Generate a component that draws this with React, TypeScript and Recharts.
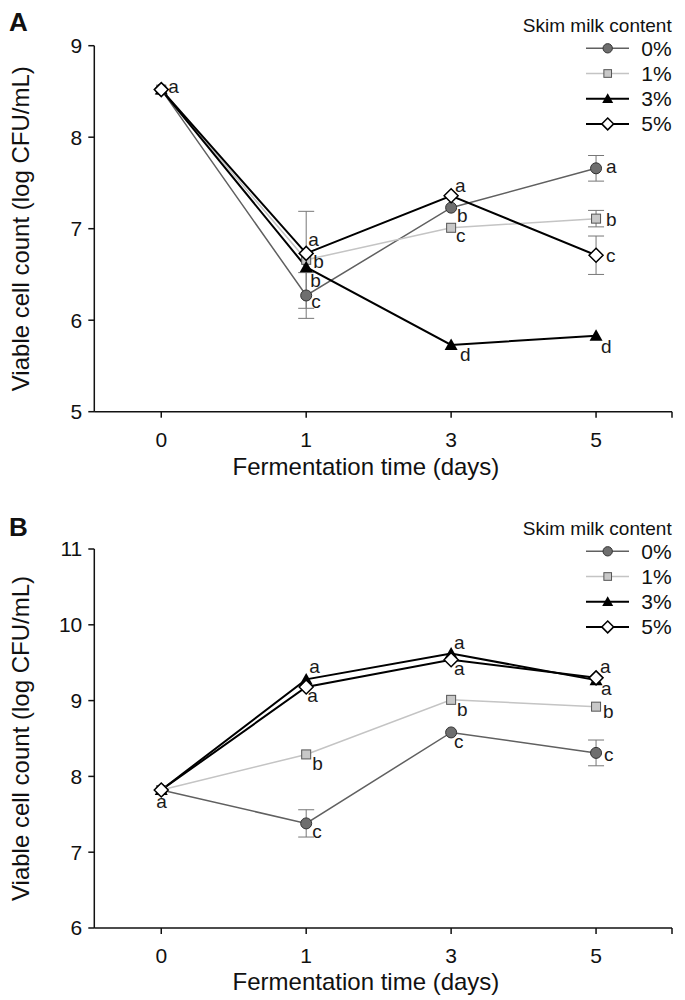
import React from 'react';
import { LineChart, Line, XAxis, YAxis, ErrorBar, LabelList, Legend } from 'recharts';

const FONT = "'Liberation Sans', Arial, sans-serif";

// ---------- shared ----------
const days = ['0', '1', '3', '5'];
const seriesNames = ['0%', '1%', '3%', '5%'];
const legendTitle = 'Skim milk content';
const xTitle = 'Fermentation time (days)';
const yTitle = 'Viable cell count (log CFU/mL)';

// ---------- Panel A ----------
const a0 = [8.52, 6.27, 7.23, 7.66];
const a1 = [8.52, 6.66, 7.01, 7.11];
const a3 = [8.52, 6.58, 5.73, 5.83];
const a5 = [8.52, 6.73, 7.36, 6.71];
const aErr0 = [null, 0.25, null, 0.14];
const aErr1 = [null, 0.53, null, 0.09];
const aErr3 = [null, null, null, null];
const aErr5 = [null, null, null, 0.21];
const aLet0 = ['', 'c', 'b', 'a'];
const aLet1 = ['', 'b', 'c', 'b'];
const aLet3 = ['', 'b', 'd', 'd'];
const aLet5 = ['a', 'a', 'a', 'c'];
const aTicks = [5, 6, 7, 8, 9];

// ---------- Panel B ----------
const b0 = [7.82, 7.38, 8.58, 8.31];
const b1 = [7.82, 8.29, 9.01, 8.92];
const b3 = [7.82, 9.28, 9.62, 9.27];
const b5 = [7.82, 9.18, 9.54, 9.3];
const bErr0 = [null, 0.18, null, 0.17];
const bErr1 = [null, null, null, null];
const bErr3 = [null, null, null, null];
const bErr5 = [null, null, null, null];
const bLet0 = ['', 'c', 'c', 'c'];
const bLet1 = ['', 'b', 'b', 'b'];
const bLet3 = ['', 'a', 'a', 'a'];
const bLet5 = ['a', 'a', 'a', 'a'];
const bTicks = [6, 7, 8, 9, 10, 11];

// letter placement offsets [dx, dy] (styling)
const aPlace = [
  [[0, 0], [5, 8], [6, 9], [10, 0]],
  [[0, 0], [7, 3], [5, 9], [10, 2]],
  [[0, 0], [4, 15], [9, 11], [5, 12]],
  [[7, -2], [2, -12], [4, -9], [10, 2]],
];
const bPlace = [
  [[0, 0], [6, 10], [3, 11], [8, 3]],
  [[0, 0], [6, 11], [6, 11], [7, 6]],
  [[0, 0], [3, -11], [3, -10], [5, 10]],
  [[-5, 13], [1, 10], [3, 10], [4, -10]],
];

const styles = [
  { stroke: '#606060', width: 1.5, shape: 'circle' },
  { stroke: '#c4c4c4', width: 1.5, shape: 'square' },
  { stroke: '#000000', width: 2, shape: 'triangle' },
  { stroke: '#000000', width: 2, shape: 'diamond' },
];

function Marker({ shape, cx, cy, s = 1 }: any) {
  if (cx == null || cy == null || isNaN(cx) || isNaN(cy)) return <g />;
  if (shape === 'circle')
    return <circle cx={cx} cy={cy} r={5.5 * s} fill="#6e6e6e" stroke="#333" strokeWidth={1} />;
  if (shape === 'square')
    return (
      <rect x={cx - 4.5 * s} y={cy - 4.5 * s} width={9 * s} height={9 * s} fill="#c8c8c8" stroke="#555" strokeWidth={1} />
    );
  if (shape === 'triangle')
    return (
      <path d={`M${cx},${cy - 6.5 * s} L${cx + 6.5 * s},${cy + 5 * s} L${cx - 6.5 * s},${cy + 5 * s} Z`} fill="#000" />
    );
  return (
    <path
      d={`M${cx},${cy - 7 * s} L${cx + 7 * s},${cy} L${cx},${cy + 7 * s} L${cx - 7 * s},${cy} Z`}
      fill="#fff"
      stroke="#000"
      strokeWidth={1.5}
    />
  );
}

function buildRows(vals: number[][], errs: (number | null)[][], lets: string[][]) {
  return days.map((d, i) => ({
    idx: i,
    day: d,
    s0: vals[0][i], s1: vals[1][i], s2: vals[2][i], s3: vals[3][i],
    e0: errs[0][i], e1: errs[1][i], e2: errs[2][i], e3: errs[3][i],
    l0: lets[0][i], l1: lets[1][i], l2: lets[2][i], l3: lets[3][i],
  }));
}

const rowsA = buildRows([a0, a1, a3, a5], [aErr0, aErr1, aErr3, aErr5], [aLet0, aLet1, aLet3, aLet5]);
const rowsB = buildRows([b0, b1, b3, b5], [bErr0, bErr1, bErr3, bErr5], [bLet0, bLet1, bLet3, bLet5]);

const makeLetter = (place: number[][]) => (props: any) => {
  const { x, y, value, index } = props;
  if (!value) return null;
  const [dx, dy] = place[index] || [0, 0];
  return (
    <text key={`lt-${index}`} x={x + dx} y={y + dy + 5} fontSize={19} fontFamily={FONT} fill="#1a1a1a">
      {value}
    </text>
  );
};

const makeLegend = () => () => (
  <svg width={195} height={135} style={{ display: 'block' }}>
    <text x={181.7} y={32} textAnchor="end" fontSize={19} fontFamily={FONT} fill="#111">
      {legendTitle}
    </text>
    {seriesNames.map((n, i) => {
      const cy = 48.3 + i * 25.2;
      const st = styles[i];
      return (
        <g key={n}>
          <line x1={96} x2={139} y1={cy} y2={cy} stroke={st.stroke} strokeWidth={st.width} />
          <Marker shape={st.shape} cx={117.7} cy={cy} s={0.85} />
          <text x={181.7} y={cy + 7.5} textAnchor="end" fontSize={21} fontFamily={FONT} fill="#111">
            {n}
          </text>
        </g>
      );
    })}
  </svg>
);

function Panel({ rows, domain, ticks, place, letter, top, plotH, legendTop, titleGap }: any) {
  const H = 495;
  const bottomAxis = top + plotH;
  const xAxisH = H - bottomAxis;
  const XTitle = () => (
    <text x={366} y={bottomAxis + titleGap} textAnchor="middle" fontSize={24} fontFamily={FONT} fill="#111">
      {xTitle}
    </text>
  );
  const yc = top + plotH / 2;
  const YTitle = () => (
    <text x={29} y={yc} textAnchor="middle" fontSize={24} fontFamily={FONT} fill="#111" transform={`rotate(-90, 29, ${yc})`}>
      {yTitle}
    </text>
  );
  return (
    <div style={{ position: 'relative', width: 685, height: H }}>
      <LineChart width={685} height={H} data={rows} margin={{ top, right: 13, left: 34.3, bottom: 0 }}>
        <XAxis
          type="number"
          dataKey="idx"
          domain={[-0.462, 3.524]}
          ticks={[0, 1, 2, 3, 3.524]}
          interval={0}
          allowDataOverflow
          tickFormatter={(v: number) => (days[v] !== undefined ? days[v] : '')}
          height={xAxisH}
          tickSize={6}
          tickMargin={14}
          axisLine={{ stroke: '#111', strokeWidth: 1.5 }}
          tickLine={{ stroke: '#111', strokeWidth: 1.5 }}
          tick={{ fill: '#111', fontSize: 21, fontFamily: FONT }}
          label={<XTitle />}
        />
        <YAxis
          type="number"
          domain={domain}
          ticks={ticks}
          interval={0}
          allowDataOverflow
          width={60}
          tickSize={6}
          tickMargin={6}
          axisLine={{ stroke: '#111', strokeWidth: 1.5 }}
          tickLine={{ stroke: '#111', strokeWidth: 1.5 }}
          tick={{ fill: '#111', fontSize: 21, fontFamily: FONT }}
          label={<YTitle />}
        />
        <Legend
          layout="vertical"
          align="center"
          verticalAlign="middle"
          content={makeLegend()}
          wrapperStyle={{ left: 490, top: legendTop, width: 195, height: 135 }}
        />
        {styles.map((st, i) => (
          <Line
            key={`s${i}`}
            type="linear"
            dataKey={`s${i}`}
            name={seriesNames[i]}
            stroke={st.stroke}
            strokeWidth={st.width}
            isAnimationActive={false}
            activeDot={false}
            dot={(p: any) => <Marker key={`m${i}-${p.index}`} shape={st.shape} cx={p.cx} cy={p.cy} />}
          >
            <ErrorBar dataKey={`e${i}`} width={8} strokeWidth={1} stroke="#777" direction="y" />
            <LabelList dataKey={`l${i}`} content={makeLetter(place[i])} />
          </Line>
        ))}
      </LineChart>
      <svg width={40} height={40} style={{ position: 'absolute', left: 0, top: 0 }}>
        <text x={9} y={31} fontSize={26} fontWeight="bold" fontFamily={FONT} fill="#111">
          {letter}
        </text>
      </svg>
    </div>
  );
}

export default function App() {
  return (
    <div style={{ position: 'absolute', left: 0, top: 0, width: 685, height: 1000, background: '#fff' }}>
      <div style={{ position: 'absolute', left: 0, top: 0 }}>
        <Panel rows={rowsA} domain={[5, 9]} ticks={aTicks} place={aPlace} letter="A" top={45.7} plotH={366} legendTop={0} titleGap={63} />
      </div>
      <div style={{ position: 'absolute', left: 0, top: 505 }}>
        <Panel rows={rowsB} domain={[6, 11]} ticks={bTicks} place={bPlace} letter="B" top={44} plotH={379} legendTop={-2} titleGap={62} />
      </div>
    </div>
  );
}
